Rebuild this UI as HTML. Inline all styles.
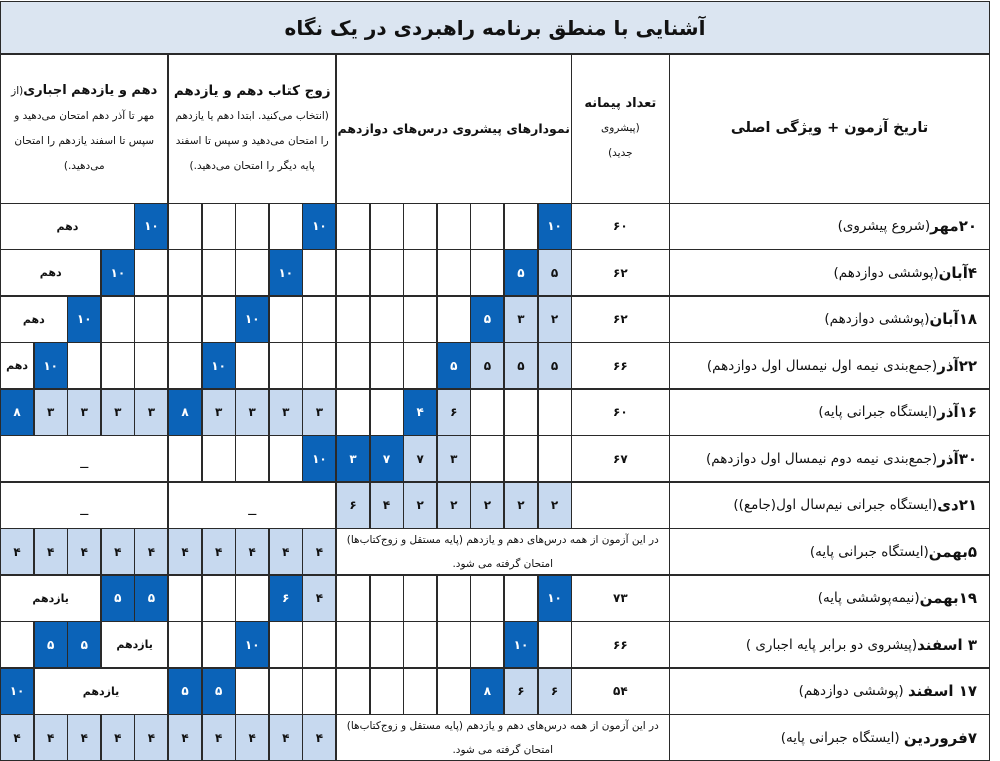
<!DOCTYPE html>
<html><head><meta charset="utf-8"><style>
html,body{margin:0;padding:0;background:#fff;}
.g{position:absolute;left:0;top:1px;width:988px;height:758px;background:#2a2a2a;border:1.5px solid #2a2a2a;
display:grid;gap:1.5px;grid-template-columns:repeat(17,32.1px) 96.5px 1fr;
grid-template-rows:51px 148px repeat(12,minmax(0,1fr));font-family:"DejaVu Sans",sans-serif;}
.g>div{background:#fff;display:flex;align-items:center;justify-content:center;direction:rtl;color:#111;overflow:hidden;}
.d{background:#0b63b8 !important;color:#fff !important;font-weight:bold;font-size:12px;}
.l{background:#c7d9ef !important;font-weight:bold;font-size:12px;}
.t{font-weight:bold;font-size:11px;}
.s2{grid-column:span 2}.s3{grid-column:span 3}.s4{grid-column:span 4}.s5{grid-column:span 5}.s7{grid-column:span 7}.s8{grid-column:span 8}
.ttl{grid-column:1/-1;background:#dbe5f1 !important;font-weight:bold;font-size:20px;}
.h{flex-direction:column;text-align:center;font-size:10.5px;line-height:25px;padding:0 2px;}
.h b{font-size:13px;letter-spacing:-0.3px;}
.p{font-size:12px;font-weight:bold;}
.r{justify-content:flex-start !important;padding-right:12px;font-size:13.5px;}
.r b{font-size:15px;}
.n{font-size:10.5px;flex-direction:column;line-height:24px;}
</style></head><body>
<div class="g">
<div class="ttl">آشنایی با منطق برنامه راهبردی در یک نگاه</div>
<div class="s5 h"><div><b>دهم و یازدهم اجباری</b>(از مهر تا آذر دهم امتحان می‌دهید و سپس تا اسفند یازدهم را امتحان می‌دهید.)</div></div>
<div class="s5 h"><b style="font-size:13.5px">زوج کتاب دهم و یازدهم</b><div>(انتخاب می‌کنید. ابتدا دهم یا یازدهم را امتحان می‌دهید و سپس تا اسفند پایه دیگر را امتحان می‌دهید.)</div></div>
<div class="s7 h" style="white-space:nowrap"><b style="font-size:12.5px;letter-spacing:-0.6px">نمودارهای پیشروی درس‌های دوازدهم</b></div>
<div class="h"><b>تعداد پیمانه</b><div>(پیشروی<br>جدید)</div></div>
<div class="h"><b style="font-size:14.5px">تاریخ آزمون + ویژگی اصلی</b></div>

<!-- r1 -->
<div class="s4 t">دهم</div><div class="d">۱۰</div>
<div></div><div></div><div></div><div></div><div class="d">۱۰</div>
<div></div><div></div><div></div><div></div><div></div><div></div><div class="d">۱۰</div>
<div class="p">۶۰</div><div class="r"><b>۲۰مهر</b>(شروع پیشروی)</div>
<!-- r2 -->
<div class="s3 t">دهم</div><div class="d">۱۰</div><div></div>
<div></div><div></div><div></div><div class="d">۱۰</div><div></div>
<div></div><div></div><div></div><div></div><div></div><div class="d">۵</div><div class="l">۵</div>
<div class="p">۶۲</div><div class="r"><b>۴آبان</b>(پوششی دوازدهم)</div>
<!-- r3 -->
<div class="s2 t">دهم</div><div class="d">۱۰</div><div></div><div></div>
<div></div><div></div><div class="d">۱۰</div><div></div><div></div>
<div></div><div></div><div></div><div></div><div class="d">۵</div><div class="l">۳</div><div class="l">۲</div>
<div class="p">۶۲</div><div class="r"><b>۱۸آبان</b>(پوششی دوازدهم)</div>
<!-- r4 -->
<div class="t">دهم</div><div class="d">۱۰</div><div></div><div></div><div></div>
<div></div><div class="d">۱۰</div><div></div><div></div><div></div>
<div></div><div></div><div></div><div class="d">۵</div><div class="l">۵</div><div class="l">۵</div><div class="l">۵</div>
<div class="p">۶۶</div><div class="r"><b>۲۲آذر</b>(جمع‌بندی نیمه اول نیمسال اول دوازدهم)</div>
<!-- r5 -->
<div class="d">۸</div><div class="l">۳</div><div class="l">۳</div><div class="l">۳</div><div class="l">۳</div>
<div class="d">۸</div><div class="l">۳</div><div class="l">۳</div><div class="l">۳</div><div class="l">۳</div>
<div></div><div></div><div class="d">۴</div><div class="l">۶</div><div></div><div></div><div></div>
<div class="p">۶۰</div><div class="r"><b>۱۶آذر</b>(ایستگاه جبرانی پایه)</div>
<!-- r6 -->
<div class="s5">_</div>
<div></div><div></div><div></div><div></div><div class="d">۱۰</div>
<div class="d">۳</div><div class="d">۷</div><div class="l">۷</div><div class="l">۳</div><div></div><div></div><div></div>
<div class="p">۶۷</div><div class="r"><b>۳۰آذر</b>(جمع‌بندی نیمه دوم نیمسال اول دوازدهم)</div>
<!-- r7 -->
<div class="s5">_</div><div class="s5">_</div>
<div class="l">۶</div><div class="l">۴</div><div class="l">۲</div><div class="l">۲</div><div class="l">۲</div><div class="l">۲</div><div class="l">۲</div>
<div></div><div class="r"><b>۲۱دی</b>(ایستگاه جبرانی نیم‌سال اول(جامع))</div>
<!-- r8 -->
<div class="l">۴</div><div class="l">۴</div><div class="l">۴</div><div class="l">۴</div><div class="l">۴</div>
<div class="l">۴</div><div class="l">۴</div><div class="l">۴</div><div class="l">۴</div><div class="l">۴</div>
<div class="s8 n"><div>در این آزمون از همه درس‌های دهم و یازدهم (پایه مستقل و زوج‌کتاب‌ها)</div><div>امتحان گرفته می شود.</div></div>
<div class="r"><b>۵بهمن</b>(ایستگاه جبرانی پایه)</div>
<!-- r9 -->
<div class="s3 t">یازدهم</div><div class="d">۵</div><div class="d">۵</div>
<div></div><div></div><div></div><div class="d">۶</div><div class="l">۴</div>
<div></div><div></div><div></div><div></div><div></div><div></div><div class="d">۱۰</div>
<div class="p">۷۳</div><div class="r"><b>۱۹بهمن</b>(نیمه‌پوششی پایه)</div>
<!-- r10 -->
<div></div><div class="d">۵</div><div class="d">۵</div><div class="s2 t">یازدهم</div>
<div></div><div></div><div class="d">۱۰</div><div></div><div></div>
<div></div><div></div><div></div><div></div><div></div><div class="d">۱۰</div><div></div>
<div class="p">۶۶</div><div class="r"><b>۳ اسفند</b>(پیشروی دو برابر پایه اجباری )</div>
<!-- r11 -->
<div class="d">۱۰</div><div class="s4 t">یازدهم</div>
<div class="d">۵</div><div class="d">۵</div><div></div><div></div><div></div>
<div></div><div></div><div></div><div></div><div class="d">۸</div><div class="l">۶</div><div class="l">۶</div>
<div class="p">۵۴</div><div class="r"><b>۱۷ اسفند</b>&nbsp;(پوششی دوازدهم)</div>
<!-- r12 -->
<div class="l">۴</div><div class="l">۴</div><div class="l">۴</div><div class="l">۴</div><div class="l">۴</div>
<div class="l">۴</div><div class="l">۴</div><div class="l">۴</div><div class="l">۴</div><div class="l">۴</div>
<div class="s8 n"><div>در این آزمون از همه درس‌های دهم و یازدهم (پایه مستقل و زوج‌کتاب‌ها)</div><div>امتحان گرفته می شود.</div></div>
<div class="r"><b>۷فروردین</b>&nbsp;(ایستگاه جبرانی پایه)</div>
</div>
</body></html>
